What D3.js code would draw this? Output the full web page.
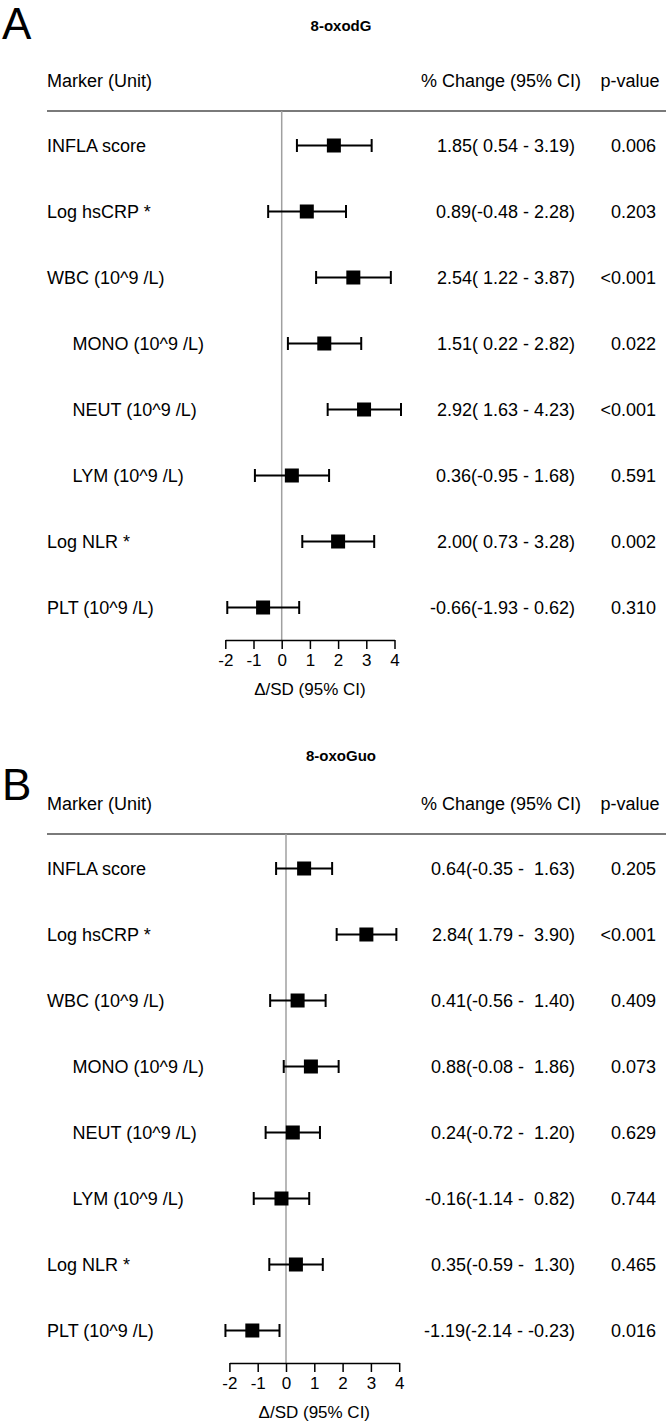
<!DOCTYPE html>
<html>
<head>
<meta charset="utf-8">
<script src="https://cdn.jsdelivr.net/npm/d3@7"></script>
<style>
  html, body { margin: 0; padding: 0; background: #fff; }
  svg text { font-family: "Liberation Sans", Arial, sans-serif; white-space: pre; }
</style>
</head>
<body>
<svg id="chart" width="666" height="1425"></svg>
<script>
// ---------------- data ----------------
const markers = ["INFLA score", "Log hsCRP *", "WBC (10^9 /L)", "MONO (10^9 /L)",
                 "NEUT (10^9 /L)", "LYM (10^9 /L)", "Log NLR *", "PLT (10^9 /L)"];
const indented = ["MONO (10^9 /L)", "NEUT (10^9 /L)", "LYM (10^9 /L)"];

const estA  = [1.85, 0.89, 2.54, 1.51, 2.92, 0.36, 2.00, -0.66];
const lowA  = [0.54, -0.48, 1.22, 0.22, 1.63, -0.95, 0.73, -1.93];
const highA = [3.19, 2.28, 3.87, 2.82, 4.23, 1.68, 3.28, 0.62];
const pA    = ["0.006", "0.203", "<0.001", "0.022", "<0.001", "0.591", "0.002", "0.310"];

const estB  = [0.64, 2.84, 0.41, 0.88, 0.24, -0.16, 0.35, -1.19];
const lowB  = [-0.35, 1.79, -0.56, -0.08, -0.72, -1.14, -0.59, -2.14];
const highB = [1.63, 3.90, 1.40, 1.86, 1.20, 0.82, 1.30, -0.23];
const pB    = ["0.205", "<0.001", "0.409", "0.073", "0.629", "0.744", "0.465", "0.016"];

const xTicks = [-2, -1, 0, 1, 2, 3, 4];
const panels = [
  { letter: "A", title: "8-oxodG",  est: estA, low: lowA, high: highA, p: pA },
  { letter: "B", title: "8-oxoGuo", est: estB, low: lowB, high: highB, p: pB }
];
const headers = ["Marker (Unit)", "% Change (95% CI)", "p-value"];

// ---------------- layout ----------------
const svg = d3.select("#chart");
const layout = [
  { dy: 0,   x0: 281.7, unit: 28.2, letterY: 39,  titleY: 31 },
  { dy: 723, x0: 286.0, unit: 28.3, letterY: 800, titleY: 761 }
];

function fmt(v, w) {
  let s = v.toFixed(2);
  while (s.length < w) s = " " + s;
  return s;
}

panels.forEach((P, pi) => {
  const L = layout[pi];
  const g = svg.append("g").attr("transform", `translate(0,${L.dy})`);

  const x = d3.scaleLinear()
    .domain([xTicks[0], xTicks[xTicks.length - 1]])
    .range([L.x0 + xTicks[0] * L.unit, L.x0 + xTicks[xTicks.length - 1] * L.unit]);
  const y = d3.scalePoint().domain(markers).range([145.5, 607.5]);

  // panel letter
  svg.append("text").attr("x", 2).attr("y", L.letterY)
    .attr("font-size", 44).attr("fill", "#000").text(P.letter);
  // title
  svg.append("text").attr("x", 341).attr("y", L.titleY)
    .attr("text-anchor", "middle").attr("font-size", 15).attr("font-weight", "bold")
    .text(P.title);

  // headers
  g.append("text").attr("x", 47).attr("y", 86.5).attr("font-size", 18).text(headers[0]);
  g.append("text").attr("x", 501).attr("y", 86.5).attr("font-size", 18)
    .attr("text-anchor", "middle").text(headers[1]);
  g.append("text").attr("x", 630).attr("y", 86.5).attr("font-size", 18)
    .attr("text-anchor", "middle").text(headers[2]);

  // header rule
  g.append("line").attr("x1", 47).attr("x2", 666).attr("y1", 111).attr("y2", 111)
    .attr("stroke", "#7a7a7a").attr("stroke-width", 2);

  // zero line
  g.append("line").attr("x1", x(0)).attr("x2", x(0)).attr("y1", 111).attr("y2", 640)
    .attr("stroke", "#a0a0a0").attr("stroke-width", 1.5);

  // labels
  g.selectAll(".lab").data(markers).join("text")
    .attr("x", d => indented.includes(d) ? 72.5 : 47)
    .attr("y", d => y(d) + 6.5).attr("font-size", 18).text(d => d);

  const wl = d3.max(P.low, v => v.toFixed(2).length);
  const wh = d3.max(P.high, v => v.toFixed(2).length);
  g.selectAll(".ci").data(markers).join("text")
    .attr("x", 575).attr("y", d => y(d) + 6.5).attr("font-size", 18)
    .attr("text-anchor", "end").attr("xml:space", "preserve")
    .text((d, i) => `${P.est[i].toFixed(2)}(${fmt(P.low[i], wl)} - ${fmt(P.high[i], wh)})`);
  g.selectAll(".pv").data(markers).join("text")
    .attr("x", 656).attr("y", d => y(d) + 6.5).attr("font-size", 18)
    .attr("text-anchor", "end").text((d, i) => P.p[i]);

  // whiskers
  const rows = g.selectAll(".row").data(markers).join("g");
  rows.append("line")
    .attr("x1", (d, i) => x(P.low[i])).attr("x2", (d, i) => x(P.high[i]))
    .attr("y1", d => y(d)).attr("y2", d => y(d))
    .attr("stroke", "#000").attr("stroke-width", 2);
  rows.append("line")
    .attr("x1", (d, i) => x(P.low[i])).attr("x2", (d, i) => x(P.low[i]))
    .attr("y1", d => y(d) - 6.5).attr("y2", d => y(d) + 6.5)
    .attr("stroke", "#000").attr("stroke-width", 2);
  rows.append("line")
    .attr("x1", (d, i) => x(P.high[i])).attr("x2", (d, i) => x(P.high[i]))
    .attr("y1", d => y(d) - 6.5).attr("y2", d => y(d) + 6.5)
    .attr("stroke", "#000").attr("stroke-width", 2);
  rows.append("rect")
    .attr("x", (d, i) => x(P.est[i]) - 7).attr("y", d => y(d) - 7)
    .attr("width", 14).attr("height", 14).attr("fill", "#000");

  // axis
  const ax = g.append("g").attr("transform", "translate(0,640)")
    .call(d3.axisBottom(x).tickValues(xTicks).tickSize(9).tickSizeOuter(0)
      .tickFormat(d => String(d)).tickPadding(5));
  ax.select(".domain").attr("stroke", "#000").attr("stroke-width", 1.5);
  ax.selectAll(".tick line").attr("stroke", "#000").attr("stroke-width", 1.5);
  ax.selectAll(".tick text").attr("font-size", 17).attr("fill", "#000")
    .attr("font-family", "Liberation Sans, Arial, sans-serif");

  g.append("text").attr("x", x(1)).attr("y", 695).attr("font-size", 17)
    .attr("text-anchor", "middle").text("\u0394/SD (95% CI)");
});
</script>
</body>
</html>
